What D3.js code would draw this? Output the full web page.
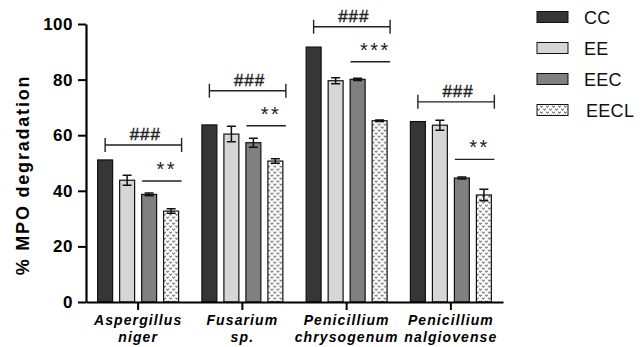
<!DOCTYPE html>
<html>
<head>
<meta charset="utf-8">
<script src="https://cdn.jsdelivr.net/npm/d3@7"></script>
<style>
  body { margin: 0; background: #fff; }
  svg { display: block; font-family: "Liberation Sans", Arial, sans-serif; }
</style>
</head>
<body>
<div id="chart"></div>
<script>
const categories = [['Aspergillus', 'niger'], ['Fusarium', 'sp.'], ['Penicillium', 'chrysogenum'], ['Penicillium', 'nalgiovense']];
const series = ['CC', 'EE', 'EEC', 'EECL'];

const ccValues = [51.1, 63.7, 91.7, 64.9];
const eeValues = [43.8, 60.4, 79.6, 63.6];
const eecValues = [38.7, 57.3, 80.1, 44.6];
const eeclValues = [32.7, 50.7, 65.2, 38.5];

const ccErrors = [0, 0, 0, 0];
const eeErrors = [1.8, 2.8, 1.1, 1.8];
const eecErrors = [0.5, 1.6, 0.4, 0.4];
const eeclErrors = [0.8, 0.8, 0.3, 2.1];

const yTicks = [0, 20, 40, 60, 80, 100];

// significance marks: ### bracket over the group, stars over EEC vs EECL
const hashLevels = [56.5, 76.0, 99.0, 72.0];
const starLevels = [43.5, 63.4, 86.4, 51.3];
const starLabels = ['**', '**', '***', '**'];

const width = 644;
const height = 347;
const margin = {top: 24, right: 141, bottom: 45, left: 86};
const innerW = width - margin.left - margin.right;
const innerH = height - margin.top - margin.bottom;

const values = [ccValues, eeValues, eecValues, eeclValues];
const errors = [ccErrors, eeErrors, eecErrors, eeclErrors];
const fills = ['#363636', '#d6d6d6', '#808080', 'url(#dots)'];

const svg = d3.select('#chart').append('svg')
  .attr('width', width)
  .attr('height', height);

// pattern for EECL
const pat = svg.append('defs').append('pattern')
  .attr('id', 'dots')
  .attr('patternUnits', 'userSpaceOnUse')
  .attr('width', 6)
  .attr('height', 6);
pat.append('rect').attr('width', 6).attr('height', 6).attr('fill', '#fff');
pat.append('path')
  .attr('d', 'M0.3,0.6 L1.5,2.4 L2.7,0.6 M3.3,3.6 L4.5,5.4 L5.7,3.6')
  .attr('fill', 'none')
  .attr('stroke', '#444')
  .attr('stroke-width', 1);

const g = svg.append('g')
  .attr('transform', `translate(${margin.left},${margin.top})`);

const x = d3.scaleBand()
  .domain(categories.map((c) => c.join(' ')))
  .range([0, innerW])
  .paddingInner(0.156)
  .paddingOuter(0.078);

const xSub = d3.scaleBand()
  .domain(series)
  .range([0, x.bandwidth()])
  .paddingInner(0.32)
  .paddingOuter(0.16);

const y = d3.scaleLinear().domain([0, 100]).range([innerH, 0]);

// bars
categories.forEach((cat, i) => {
  const gx = x(cat.join(' '));
  const group = g.append('g').attr('transform', `translate(${gx},0)`);

  series.forEach((s, j) => {
    const v = values[j][i];
    const e = errors[j][i];
    const bx = xSub(s);
    const bw = xSub.bandwidth();

    group.append('rect')
      .attr('x', bx)
      .attr('y', y(v))
      .attr('width', bw)
      .attr('height', y(0) - y(v))
      .attr('fill', fills[j])
      .attr('stroke', '#111')
      .attr('stroke-width', 1.2);

    if (e > 0) {
      const cx = bx + bw / 2;
      group.append('path')
        .attr('d', `M${cx},${y(v + e)}V${y(v - e)}M${cx - 4.5},${y(v + e)}H${cx + 4.5}M${cx - 4.5},${y(v - e)}H${cx + 4.5}`)
        .attr('fill', 'none')
        .attr('stroke', '#111')
        .attr('stroke-width', 1.5);
    }
  });

  // ### bracket
  const hx1 = xSub('CC') + xSub.bandwidth() / 2;
  const hx2 = xSub('EECL') + xSub.bandwidth() + 3;
  const hy = y(hashLevels[i]);
  group.append('path')
    .attr('d', `M${hx1},${hy}H${hx2}M${hx1},${hy - 7}V${hy + 7}M${hx2},${hy - 7}V${hy + 7}`)
    .attr('fill', 'none')
    .attr('stroke', '#222')
    .attr('stroke-width', 1.4);
  group.append('text')
    .attr('x', (hx1 + hx2) / 2 + 2)
    .attr('y', hy - 5)
    .attr('text-anchor', 'middle')
    .attr('font-size', 17)
    .attr('letter-spacing', 1)
    .attr('fill', '#222')
    .attr('stroke', '#222')
    .attr('stroke-width', 0.4)
    .text('###');

  // star line
  const sx1 = xSub('EEC') + xSub.bandwidth() / 2 - 7;
  const sx2 = xSub('EECL') + xSub.bandwidth() + 3;
  const sy = y(starLevels[i]);
  group.append('line')
    .attr('x1', sx1)
    .attr('x2', sx2)
    .attr('y1', sy)
    .attr('y2', sy)
    .attr('stroke', '#222')
    .attr('stroke-width', 1.4);
  group.append('text')
    .attr('x', (sx1 + sx2) / 2 + 5)
    .attr('y', sy - 5)
    .attr('text-anchor', 'middle')
    .attr('font-size', 20)
    .attr('letter-spacing', 2.5)
    .attr('fill', '#222')
    .text(starLabels[i]);
});

// axes
const xAxis = g.append('g')
  .attr('transform', `translate(0,${innerH})`)
  .call(d3.axisBottom(x).tickSize(8).tickSizeOuter(0).tickFormat(''));
xAxis.select('.domain').attr('stroke', '#000').attr('stroke-width', 2.2);
xAxis.selectAll('.tick line').attr('stroke', '#000').attr('stroke-width', 2);

xAxis.selectAll('.tick').each(function(d, i) {
  const t = d3.select(this).append('text')
    .attr('fill', '#000')
    .attr('font-size', 14)
    .attr('font-weight', 'bold')
    .attr('font-style', 'italic')
    .attr('letter-spacing', 1.1)
    .attr('text-anchor', 'middle');
  categories[i].forEach((line, k) => {
    t.append('tspan')
      .attr('x', 0)
      .attr('y', 23 + k * 17)
      .text(line);
  });
});

const yAxis = g.append('g')
  .call(d3.axisLeft(y).tickValues(yTicks).tickSize(8).tickSizeOuter(0).tickPadding(5));
yAxis.select('.domain').attr('stroke', '#000').attr('stroke-width', 2.2);
yAxis.selectAll('.tick line').attr('stroke', '#000').attr('stroke-width', 2);
yAxis.selectAll('.tick text')
  .attr('fill', '#000')
  .attr('font-size', 17)
  .attr('font-weight', 'bold')
  .attr('font-family', '"Liberation Sans", Arial, sans-serif')
  .attr('letter-spacing', 0.5);

svg.append('text')
  .attr('transform', `translate(29,${margin.top + innerH / 2 + 12}) rotate(-90)`)
  .attr('text-anchor', 'middle')
  .attr('font-size', 18)
  .attr('font-weight', 'bold')
  .attr('letter-spacing', 1.8)
  .attr('fill', '#000')
  .text('% MPO degradation');

// legend
const legend = svg.append('g').attr('transform', 'translate(537,0)');
series.forEach((s, j) => {
  const ly = 17 + j * 31;
  legend.append('rect')
    .attr('x', 0)
    .attr('y', ly - 5.5)
    .attr('width', 31)
    .attr('height', 11)
    .attr('fill', fills[j])
    .attr('stroke', '#111')
    .attr('stroke-width', 1);
  legend.append('text')
    .attr('x', j === 3 ? 49 : 47)
    .attr('y', ly + 6.5)
    .attr('font-size', 18)
    .attr('letter-spacing', 0.3)
    .attr('fill', '#111')
    .text(s);
});
</script>
</body>
</html>
